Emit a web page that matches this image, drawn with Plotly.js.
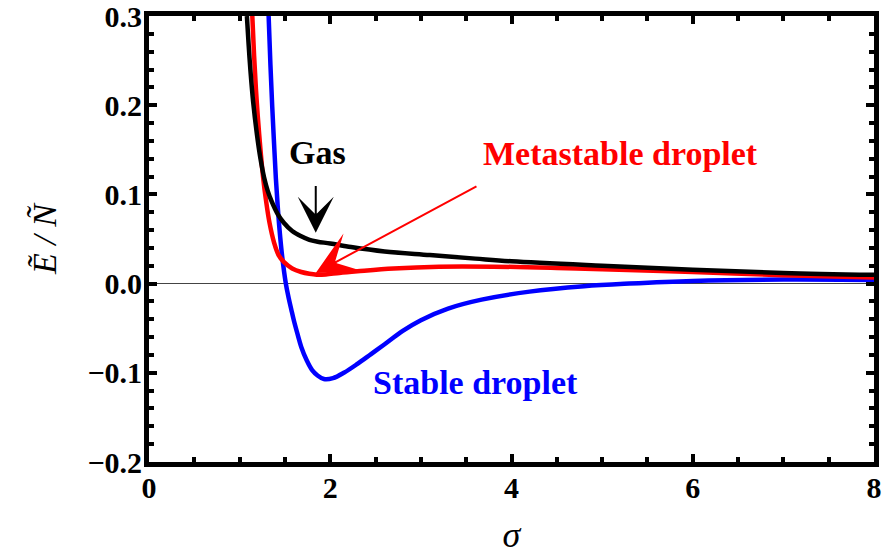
<!DOCTYPE html>
<html>
<head>
<meta charset="utf-8">
<script src="https://cdn.plot.ly/plotly-3.0.1.min.js"></script>
<style>
  html, body { margin: 0; padding: 0; background: #fff; }
  #plot { width: 886px; height: 556px; }
</style>
</head>
<body>
<div id="plot"></div>
<script>
// Energy per particle versus width sigma for the three branches
const gasSigma = [1.08, 1.10, 1.12, 1.15, 1.19, 1.23, 1.27, 1.31, 1.35, 1.42, 1.49, 1.58, 1.68, 1.77, 1.86, 2.0, 2.23, 2.6, 3.1, 3.6, 4.0, 5.0, 6.0, 7.0, 8.0];
const gasEnergy = [0.300, 0.267, 0.238, 0.203, 0.168, 0.140, 0.119, 0.104, 0.093, 0.078, 0.068, 0.059, 0.053, 0.049, 0.047, 0.045, 0.041, 0.036, 0.032, 0.028, 0.025, 0.020, 0.0156, 0.012, 0.0098];

const metaSigma = [1.14, 1.16, 1.18, 1.20, 1.23, 1.26, 1.29, 1.33, 1.38, 1.43, 1.49, 1.58, 1.68, 1.77, 1.85, 1.95, 2.1, 2.3, 2.7, 3.2, 3.8, 4.5, 5.0, 6.0, 7.0, 8.0];
const metaEnergy = [0.300, 0.255, 0.218, 0.188, 0.150, 0.118, 0.094, 0.068, 0.046, 0.032, 0.024, 0.017, 0.013, 0.011, 0.010, 0.0103, 0.012, 0.0138, 0.017, 0.019, 0.019, 0.0175, 0.016, 0.013, 0.0095, 0.0068];

const stableSigma = [1.32, 1.34, 1.36, 1.38, 1.40, 1.42, 1.44, 1.47, 1.51, 1.54, 1.57, 1.60, 1.64, 1.68, 1.74, 1.80, 1.86, 1.93, 2.03, 2.15, 2.3, 2.45, 2.6, 2.8, 3.0, 3.3, 3.67, 4.2, 4.8, 5.3, 6.0, 7.0, 8.0];
const stableEnergy = [0.300, 0.245, 0.198, 0.157, 0.118, 0.087, 0.061, 0.030, 0.000, -0.0155, -0.029, -0.042, -0.057, -0.071, -0.086, -0.097, -0.103, -0.107, -0.106, -0.100, -0.090, -0.079, -0.068, -0.053, -0.041, -0.028, -0.018, -0.009, -0.003, 0.000, 0.003, 0.0045, 0.004];

const xTicks = [0, 2, 4, 6, 8];
const yTicks = [-0.2, -0.1, 0.0, 0.1, 0.2, 0.3];

const serif = 'Liberation Serif';

// tick label in bold serif type
function boldSerif(s) {
  return '<span style="font-family:Liberation Serif;font-weight:bold">' + s + '</span>';
}

function curve(x, y, color) {
  return {
    x: x, y: y, type: 'scatter', mode: 'lines',
    line: { color: color, width: 4.5, shape: 'spline', smoothing: 1 },
    hoverinfo: 'skip', showlegend: false
  };
}

const traces = [
  curve(stableSigma, stableEnergy, '#0000ff'),
  curve(metaSigma, metaEnergy, '#ff0000'),
  curve(gasSigma, gasEnergy, '#000000')
];

function frameAxis() {
  return {
    showline: true, linecolor: '#000', linewidth: 5, mirror: 'allticks',
    ticks: 'inside', ticklen: 8, tickwidth: 4, tickcolor: '#000',
    showgrid: false, ticklabeloverflow: 'allow',
    tickfont: { family: serif, size: 30, color: '#000', weight: 'bold' }
  };
}

const layout = {
  width: 886, height: 556,
  margin: { l: 149, r: 12, t: 16, b: 94 },
  font: { family: serif, color: '#000' },
  paper_bgcolor: '#fff', plot_bgcolor: '#fff',
  showlegend: false,
  xaxis: Object.assign(frameAxis(), {
    range: [0, 8], tickvals: xTicks, ticktext: xTicks.map(v => boldSerif(String(v))),
    zeroline: false,
    minor: { dtick: 0.5, tick0: 0, ticks: 'inside', ticklen: 5, tickwidth: 4, tickcolor: '#000', showgrid: false },
    ticklabelstandoff: -5,
    title: { text: '<i>σ</i>', font: { family: serif, size: 36, color: '#000' }, standoff: 20 }
  }),
  yaxis: Object.assign(frameAxis(), {
    range: [-0.2, 0.3], tickvals: yTicks,
    ticktext: yTicks.map(v => boldSerif((v < 0 ? '\u2212' : '') + Math.abs(v).toFixed(1))),
    zeroline: true, zerolinecolor: '#444', zerolinewidth: 1,
    minor: { dtick: 0.02, tick0: 0, ticks: 'inside', ticklen: 5, tickwidth: 4, tickcolor: '#000', showgrid: false },
    ticklabelstandoff: -4,
    title: { text: '<i>Ẽ / Ñ</i>', font: { family: serif, size: 34, color: '#000' }, standoff: 22 }
  }),
  annotations: [
    { x: 1.862, y: 0.147, xref: 'x', yref: 'y', text: 'Gas', showarrow: false,
      font: { family: serif, size: 34, color: '#000', weight: 'bold' } },
    { x: 5.20, y: 0.146, xref: 'x', yref: 'y', text: 'Metastable droplet', showarrow: false,
      font: { family: serif, size: 34, color: '#ff0000', weight: 'bold' } },
    { x: 3.60, y: -0.111, xref: 'x', yref: 'y', text: 'Stable droplet', showarrow: false,
      font: { family: serif, size: 34, color: '#0000ff', weight: 'bold' } },
    // arrow pointing at the gas branch
    { x: 1.84, y: 0.057, xref: 'x', yref: 'y', ax: 1.84, ay: 0.111, axref: 'x', ayref: 'y',
      text: '', showarrow: true, arrowhead: 3, arrowsize: 3, arrowwidth: 2, arrowcolor: '#000' },
    // arrow pointing at the metastable minimum
    { x: 1.84, y: 0.012, xref: 'x', yref: 'y', ax: 3.63, ay: 0.110, axref: 'x', ayref: 'y',
      text: '', showarrow: true, arrowhead: 3, arrowsize: 3.6, arrowwidth: 2, arrowcolor: '#ff0000' }
  ]
};

Plotly.newPlot('plot', traces, layout, { displayModeBar: false, staticPlot: true });
</script>
</body>
</html>
